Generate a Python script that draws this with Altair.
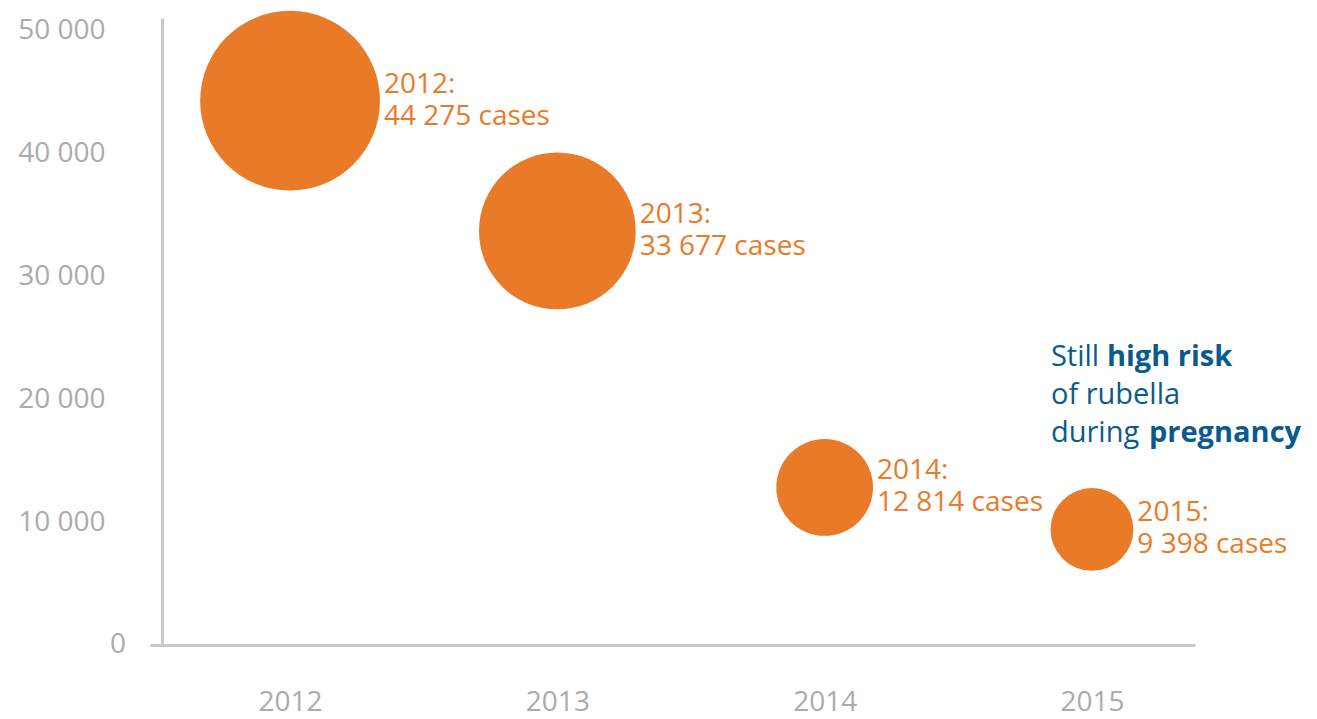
import altair as alt
import pandas as pd

# ---- data ----
years = [2012, 2013, 2014, 2015]
cases = [44275, 33677, 12814, 9398]
y_ticks = [0, 10000, 20000, 30000, 40000, 50000]
note_regular = ["Still", "of rubella", "during"]
note_bold_top = "high risk"
note_bold_bottom = "pregnancy"

# ---- styles ----
ORANGE = "#E97A28"
BLUE = "#0B5A8E"
GRAY_TEXT = "#ABABAB"
GRAY_LINE = "#C8C8C8"
FONT = "Open Sans"

W, H = 1045, 627
X_DOMAIN = [2011.476, 2015.3855]
Y_DOMAIN = [0, 51000]
SIZE_DOMAIN = [0, 50000]
SIZE_RANGE = [0, 36500]

df = pd.DataFrame({"year": years, "cases": cases})

px_per_year = W / (X_DOMAIN[1] - X_DOMAIN[0])
k = SIZE_RANGE[1] / SIZE_DOMAIN[1]

x_scale = alt.Scale(domain=X_DOMAIN, nice=False, zero=False)
y_scale = alt.Scale(domain=Y_DOMAIN, nice=False, zero=True)

x_enc = alt.X(
    "year:Q",
    scale=x_scale,
    axis=alt.Axis(
        values=years, format="d", title=None, grid=False, ticks=False,
        domainColor=GRAY_LINE, domainWidth=3,
        labelColor=GRAY_TEXT, labelFont=FONT, labelFontSize=28, labelPadding=43,
    ),
)
y_enc = alt.Y(
    "cases:Q",
    scale=y_scale,
    axis=alt.Axis(
        values=y_ticks, title=None, grid=False, ticks=False, offset=-12,
        domainColor=GRAY_LINE, domainWidth=3,
        labelColor=GRAY_TEXT, labelFont=FONT, labelFontSize=28, labelPadding=57,
        labelExpr="datum.value == 0 ? '' : replace(format(datum.value, ','), ',', ' ')",
    ),
)

bubbles = alt.Chart(df).mark_circle(color=ORANGE, opacity=1).encode(
    x=x_enc,
    y=y_enc,
    size=alt.Size("cases:Q", scale=alt.Scale(domain=SIZE_DOMAIN, range=SIZE_RANGE, zero=True), legend=None),
)

# label sits just right of each bubble (circle radius = sqrt(size) / 2)
labels = alt.Chart(df).transform_calculate(
    lx=f"datum.year + (sqrt(datum.cases * {k}) / 2 + 4) / {px_per_year}",
    label="[toString(datum.year) + ':', replace(format(datum.cases, ','), ',', ' ') + ' cases']",
).mark_text(
    align="left", baseline="middle", font=FONT, fontSize=28, lineHeight=32,
    color=ORANGE, dy=-16,
).encode(
    x=alt.X("lx:Q", title=None),
    y=alt.Y("cases:Q", title=None),
    text="label:N",
)

zero_label = alt.Chart(pd.DataFrame({"v": [y_ticks[0]]})).mark_text(
    align="right", baseline="middle", font=FONT, fontSize=28, color=GRAY_TEXT
).encode(
    x=alt.value(-24),
    y=alt.Y("v:Q", title=None),
    text=alt.Text("v:Q", format="d"),
)

note_anchor = pd.DataFrame({"year": [2015], "cases": [20335]})
note_base = alt.Chart(note_anchor).encode(
    x=alt.X("year:Q", title=None), y=alt.Y("cases:Q", title=None)
)
note1 = note_base.mark_text(
    align="left", baseline="middle", font=FONT, fontSize=29, lineHeight=38,
    color=BLUE, dx=-41, dy=-38, text=note_regular,
)
note2 = note_base.mark_text(
    align="left", baseline="middle", font=FONT, fontSize=29, fontWeight="bold",
    color=BLUE, dx=15, dy=-38, text=note_bold_top,
)
note3 = note_base.mark_text(
    align="left", baseline="middle", font=FONT, fontSize=29, fontWeight="bold",
    color=BLUE, dx=57, dy=38, text=note_bold_bottom,
)

chart = alt.layer(bubbles, labels, zero_label, note1, note2, note3).properties(
    width=W,
    height=H,
    padding={"left": 150, "top": 18, "right": 122, "bottom": 74},
    autosize=alt.AutoSizeParams(type="none"),
    background="white",
).configure_view(stroke=None)

chart.save("out.html", embed_options={"renderer": "svg", "actions": False})
